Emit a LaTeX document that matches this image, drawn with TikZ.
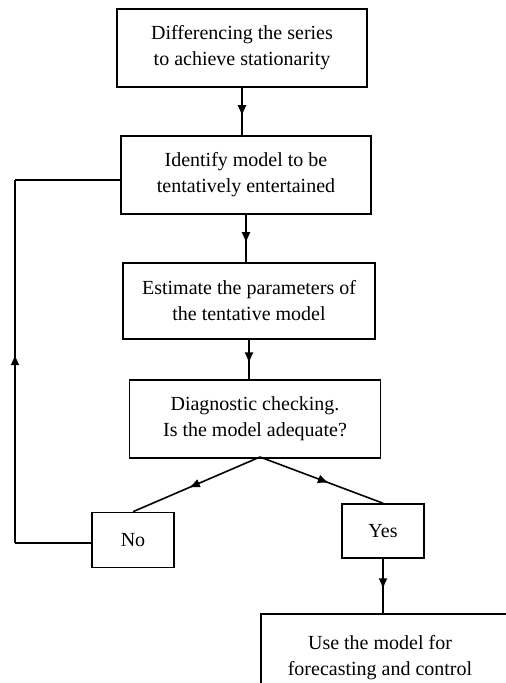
\documentclass[tikz,border=0pt]{standalone}
\usepackage{fontspec}
\setmainfont{Liberation Serif}
\usetikzlibrary{arrows.meta,decorations.markings}
\begin{document}
\begin{tikzpicture}[x=1pt, y=-1pt, line width=1.6pt,
      font=\fontsize{20}{26}\selectfont,
      box/.style={draw, align=center, minimum height=78pt},
      midarrow/.style={postaction={decorate}, decoration={markings,
        mark=at position #1 with {\arrow{Latex[length=11pt,width=9pt]}}}}]
    \useasboundingbox (0,0) rectangle (506,683);
    \node[box, minimum width=250pt] (diff) at (242,48) {Differencing the series\\to achieve stationarity};
    \node[box, minimum width=250pt] (ident) at (246,175) {Identify model to be\\tentatively entertained};
    \node[box, minimum width=252pt, minimum height=76pt] (estim) at (249,301) {Estimate the parameters of\\the tentative model};
    \node[box, minimum width=251pt] (diag) at (255,419) {Diagnostic checking.\\Is the model adequate?};
    \node[box, minimum width=82pt, minimum height=55pt] (no) at (133,540) {No};
    \node[box, minimum width=82pt, minimum height=54pt] (yes) at (383,531) {Yes};
    \node[align=center, minimum width=236pt, minimum height=86pt] (use) at (380,658) {Use the model for\\forecasting and control};
    \draw (use.south west) -- (use.north west) -- ++(270,0);
    \coordinate (loopbot) at (15,543);
    \coordinate (looptop) at (15,180);
    \coordinate (split) at (260,457);
    \draw[midarrow=0.6] (diff.south) -- (diff.south |- ident.north);
    \draw[midarrow=0.6] (ident.south) -- (ident.south |- estim.north);
    \draw[midarrow=0.6] (estim.south) -- (estim.south |- diag.north);
    \draw[midarrow=0.56] (split) -- (no.north);
    \draw[midarrow=0.56] (split) -- (yes.north);
    \draw[midarrow=0.55] (yes) -- (yes |- use.north);
    \draw (no.west |- loopbot) -- (loopbot);
    \draw[midarrow=0.52] (loopbot) -- (looptop);
    \draw (looptop) -- (looptop -| ident.west);
  \end{tikzpicture}
\end{document}
